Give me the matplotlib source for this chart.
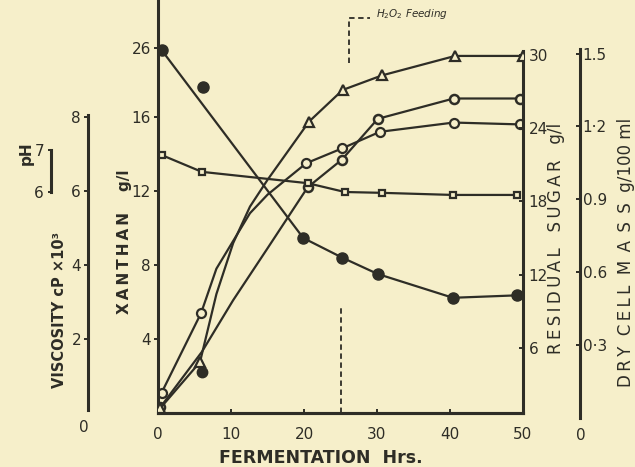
import numpy as np
import matplotlib
matplotlib.use("Agg")
import matplotlib.pyplot as plt

W, H = 635, 467
BG = "#f6efca"
INK = "#2e2d26"

# fermentation time (hrs) and values.  The points between the
# markers are read from the drawn curves, so *_marks says which ones get a marker.
xan_hr = [0.5, 5.9, 8, 10.3, 12.6, 15, 20.3, 25.2, 30.4, 40.5, 49.6]
xanthan = [1.1, 5.4, 7.8, 9.3, 10.8, 11.8, 13.5, 14.3, 15.2, 15.7, 15.6]
xan_marks = [0, 1, 6, 7, 8, 9, 10]

visc_hr = [0.3, 6, 10.3, 15, 20.5, 25.2, 30.1, 40.5, 49.6]
viscosity = [0.15, 1.65, 3.05, 4.45, 6.1, 6.85, 7.95, 8.5, 8.5]
visc_marks = [0, 4, 5, 6, 7, 8]
visc_dot_hr = [6]
visc_dot = [1.1]

dcm_hr = [0.3, 5.75, 8, 10.3, 12.6, 15, 20.7, 25.3, 30.7, 40.7, 50]
dry_mass = [0.04, 0.23, 0.51, 0.72, 0.87, 0.98, 1.22, 1.35, 1.41, 1.49, 1.49]
dcm_marks = [0, 1, 6, 7, 8, 9, 10]

ph_hr = [0.5, 6, 20.5, 25.6, 30.7, 40.4, 49.2]
ph = [6.88, 6.48, 6.21, 6.0, 5.98, 5.93, 5.93]

sugar_hr = [0.5, 6.2, 19.9, 25.2, 30.1, 40.4, 49.2]
sugar = [30.4, 27.4, 15.0, 13.4, 12.05, 10.1, 10.3]
sugar_off_line = 1  # the stray dot at 6 h is not on the drawn line

feed_hr = 25
feed_low = [0, 5.7]
feed_top_hr = [26.2, 26.2, 29]
feed_top = [18.9, 21.35, 21.35]

hr_ticks = [0, 10, 20, 30, 40, 50]
xan_ticks = [4, 8, 12, 16, 19.73]
xan_labels = ["4", "8", "12", "16", "26"]
visc_ticks = [2, 4, 6, 8]
ph_ticks = [6, 7]
sugar_ticks = [6, 12, 18, 24, 30]
dcm_ticks = [0.3, 0.6, 0.9, 1.2, 1.5]
dcm_labels = ["0\u00b73", "0.6", "0.9", "1\u00b72", "1.5"]


def px(x, y):
    return x / W, 1 - y / H


def spaced(word):
    # the scan's titles are letter-spaced
    return "\u2009".join(word)


plt.rcParams["font.family"] = "DejaVu Sans"
fig = plt.figure(figsize=(W / 100, H / 100), dpi=100, facecolor=BG)

# plot frame in pixels: x 158..523, y 413 (bottom) .. 0 (top)
ax = fig.add_axes([158 / W, (H - 413) / H, 365 / W, 413 / H])
ax.set_facecolor("none")
ax.set_xlim(0, 50)
ax.set_ylim(0, 413 / 18.5)

line_kw = dict(color=INK, lw=1.6, solid_capstyle="round")
tick_kw = dict(colors=INK, labelsize=11, width=1.4)


def clean(a, keep):
    for side in ["left", "right", "top", "bottom"]:
        a.spines[side].set_visible(side in keep)
        a.spines[side].set_color(INK)
        a.spines[side].set_linewidth(2.2)


clean(ax, ["left", "bottom"])
ax.set_xticks(hr_ticks)
ax.tick_params(axis="x", direction="in", length=3, pad=10, **tick_kw)
ax.set_yticks(xan_ticks)
ax.set_yticklabels(xan_labels)
ax.tick_params(axis="y", direction="out", length=3, pad=2, **tick_kw)

# xanthan, open circles
ax.plot(xan_hr, xanthan, marker="o", markevery=xan_marks, ms=6.5, mfc=BG,
        mec=INK, mew=1.6, **line_kw)

# H2O2 feeding marks
ax.plot([feed_hr, feed_hr], feed_low, color=INK, lw=1.3, ls=(0, (3, 2)))
ax.plot(feed_top_hr, feed_top, color=INK, lw=1.3, ls=(0, (3, 2)), clip_on=False)
ax.text(29.8, feed_top[-1] + 0.2, r"$H_2O_2$ Feeding", fontsize=7.5,
        style="italic", color=INK, va="center")

# viscosity axis (left, outside)
ax_v = ax.twinx()
clean(ax_v, ["left"])
ax_v.spines["left"].set_position(("outward", 70 * 0.72))
ax_v.yaxis.set_ticks_position("left")
ax_v.set_ylim(0, 413 / 37)
ax_v.spines["left"].set_bounds(0.08, 8.05)
ax_v.set_yticks(visc_ticks)
ax_v.tick_params(axis="y", direction="out", length=3, pad=2, **tick_kw)
ax_v.plot(visc_hr, viscosity, marker="o", markevery=visc_marks, ms=6.5,
          mfc=BG, mec=INK, mew=1.8, **line_kw)
ax_v.plot(visc_dot_hr, visc_dot, "o", ms=7.5, color=INK)

# pH axis (small bar, far left)
ax_p = ax.twinx()
clean(ax_p, ["left"])
ax_p.spines["left"].set_position(("outward", 107 * 0.72))
ax_p.yaxis.set_ticks_position("left")
ax_p.set_ylim(6 - 221 / 42, 7 + 150 / 42)
ax_p.spines["left"].set_bounds(6, 7)
ax_p.set_yticks(ph_ticks)
ax_p.tick_params(axis="y", direction="out", length=2, pad=3, **tick_kw)
ax_p.plot(ph_hr, ph, marker="s", ms=5, mfc=BG, mec=INK, mew=1.6, **line_kw)

# residual sugar axis (right spine of the frame)
ax_s = ax.twinx()
clean(ax_s, ["right", "bottom"])
ax_s.set_ylim((421 - 413) / 12.2, 421 / 12.2)
ax_s.spines["right"].set_bounds((421 - 413) / 12.2, 30.3)
ax_s.set_yticks(sugar_ticks)
ax_s.tick_params(axis="y", direction="in", length=3, pad=4, **tick_kw)
keep = [i for i in range(len(sugar)) if i != sugar_off_line]
ax_s.plot(np.array(sugar_hr)[keep], np.array(sugar)[keep], **line_kw)
ax_s.plot(sugar_hr, sugar, "o", ms=8, color=INK)

# dry cell mass axis (right, outside)
ax_d = ax.twinx()
clean(ax_d, ["right"])
ax_d.spines["right"].set_position(("outward", 57 * 0.72))
ax_d.set_ylim((418 - 413) / 243, 418 / 243)
ax_d.spines["right"].set_bounds(0.0, 1.52)
ax_d.set_yticks(dcm_ticks)
ax_d.set_yticklabels(dcm_labels)
ax_d.tick_params(axis="y", direction="in", length=3, pad=2, **tick_kw)
ax_d.plot(dcm_hr, dry_mass, marker="^", markevery=dcm_marks, ms=6.5, mfc=BG,
          mec=INK, mew=1.6, **line_kw)

# axis titles
fig.text(*px(321, 458), "FERMENTATION  Hrs.", ha="center", va="center",
         fontsize=12.5, fontweight="bold", color=INK)
fig.text(*px(26, 153), "pH", rotation=90, ha="center", va="center",
         fontsize=11, fontweight="bold", color=INK)
fig.text(*px(60, 310), "VISCOSITY cP \u00d710\u00b3", rotation=90, ha="center",
         va="center", fontsize=10.5, fontweight="bold", color=INK)
fig.text(*px(125, 242), spaced("XANTHAN") + "    g/l", rotation=90,
         ha="center", va="center", fontsize=11, fontweight="bold", color=INK)
fig.text(*px(556, 238), spaced("RESIDUAL") + "   " + spaced("SUGAR") + "   g/l",
         rotation=90, ha="center", va="center", fontsize=12, color=INK)
fig.text(*px(626, 252), spaced("DRY") + "  " + spaced("CELL") + "  "
         + "\u2002".join("MASS") + "  g/100 ml", rotation=90,
         ha="center", va="center", fontsize=12, color=INK)
fig.text(*px(84, 428), "0", ha="center", va="center", fontsize=11, color=INK)
fig.text(*px(581, 436), "0", ha="center", va="center", fontsize=11, color=INK)

fig.savefig("out.png", dpi=100, facecolor=BG)
